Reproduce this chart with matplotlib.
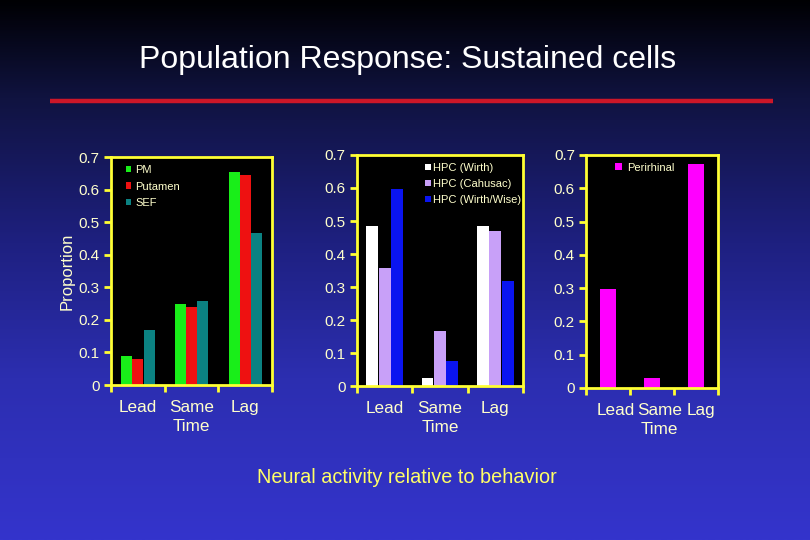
import matplotlib.pyplot as plt
import numpy as np
from matplotlib.colors import LinearSegmentedColormap

plt.rcParams['font.family'] = ['Liberation Sans', 'DejaVu Sans']

# -------------------------------------------------
# data
timing = ["Lead", "Same\nTime", "Lag"]

pm = [0.089, 0.248, 0.653]
putamen = [0.080, 0.240, 0.645]
sef = [0.169, 0.258, 0.466]

hpc_wirth = [0.484, 0.024, 0.484]
hpc_cahusac = [0.359, 0.167, 0.470]
hpc_wirth_wise = [0.597, 0.077, 0.317]

perirhinal = [0.298, 0.029, 0.673]

yticks = [0, 0.1, 0.2, 0.3, 0.4, 0.5, 0.6, 0.7]

frame_col = "#ffff33"
tick_col = "#ffffcc"

# -------------------------------------------------
fig = plt.figure(figsize=(8.1, 5.4), dpi=100)

# background gradient
bg = fig.add_axes([0, 0, 1, 1], zorder=-10)
cmap = LinearSegmentedColormap.from_list(
    "slide",
    [(0.0, "#000003"), (0.18, "#101340"), (0.45, "#1e2080"),
     (0.7, "#2c2eb0"), (1.0, "#3434cc")])
grad = np.linspace(0, 1, 256).reshape(-1, 1)
bg.imshow(grad, aspect="auto", cmap=cmap, extent=[0, 1, 0, 1], origin="upper")
bg.set_xlim(0, 1)
bg.set_ylim(0, 1)
bg.axis("off")

fig.text(0.503, 0.888, "Population Response: Sustained cells", color="white",
         fontsize=23, ha="center", va="center")
bg.plot([0.062, 0.954], [0.813, 0.813], color="#cc1628", linewidth=3.2,
        solid_capstyle="butt")
fig.text(0.502, 0.116, "Neural activity relative to behavior", color="#ffff66",
         fontsize=14.3, ha="center", va="center")


def setup_panel(ax, label_pos=(0, 1, 2)):
    ax.set_facecolor("black")
    ax.set_xlim(-0.5, 2.5)
    ax.set_ylim(0, 0.7)
    for sp in ax.spines.values():
        sp.set_color(frame_col)
        sp.set_linewidth(2)
    ax.set_yticks(yticks)
    ax.set_yticklabels(["0", "0.1", "0.2", "0.3", "0.4", "0.5", "0.6", "0.7"])
    ax.set_xticks([-0.5, 0.5, 1.5, 2.5])
    ax.set_xticklabels([])
    ax.set_xticks(list(label_pos), minor=True)
    ax.set_xticklabels(timing, minor=True)
    ax.tick_params(axis="y", colors=frame_col, labelcolor=tick_col,
                   labelsize=11, length=5, width=2, pad=3)
    ax.tick_params(axis="x", which="major", colors=frame_col, length=5, width=2)
    ax.tick_params(axis="x", which="minor", length=0, labelcolor=tick_col,
                   labelsize=12.3, pad=11)
    for lab in ax.get_xticklabels(minor=True):
        lab.set_linespacing(1.3)


x = np.arange(3)

# -------------------------------------------------
ax1 = fig.add_axes([0.137, 0.287, 0.199, 0.422])
setup_panel(ax1)
w = 0.205
ax1.bar(x - 0.21, pm, w, color="#19ee19", label="PM")
ax1.bar(x, putamen, w, color="#ee1111", label="Putamen")
ax1.bar(x + 0.21, sef, w, color="#0b8282", label="SEF")
ax1.set_ylabel("Proportion", color=tick_col, fontsize=12, labelpad=3)
ax1.legend(loc="upper left", bbox_to_anchor=(0.03, 1.01), frameon=False,
           fontsize=8, labelcolor=tick_col, handlelength=0.5,
           handleheight=0.5, handletextpad=0.35, labelspacing=0.6)

# -------------------------------------------------
ax2 = fig.add_axes([0.4407, 0.285, 0.205, 0.428])
setup_panel(ax2)
w = 0.215
ax2.bar(x - 0.225, hpc_wirth, w, color="white", label="HPC (Wirth)")
ax2.bar(x, hpc_cahusac, w, color="#c8a0f8", label="HPC (Cahusac)")
ax2.bar(x + 0.225, hpc_wirth_wise, w, color="#0a14f0", label="HPC (Wirth/Wise)")
ax2.legend(loc="upper left", bbox_to_anchor=(0.35, 1.01), frameon=False,
           fontsize=8, labelcolor=tick_col, handlelength=0.5,
           handleheight=0.5, handletextpad=0.2, labelspacing=0.55)

# -------------------------------------------------
ax3 = fig.add_axes([0.7235, 0.2815, 0.163, 0.4315])
setup_panel(ax3, label_pos=(0.17, 1.17, 2.1))
ax3.bar(x, perirhinal, 0.375, color="#ff00ff", label="Perirhinal")
ax3.legend(loc="upper left", bbox_to_anchor=(0.14, 1.01), frameon=False,
           fontsize=8, labelcolor=tick_col, handlelength=0.65,
           handleheight=0.65, handletextpad=0.5)

fig.savefig("out.png", dpi=100)
plt.close(fig)
